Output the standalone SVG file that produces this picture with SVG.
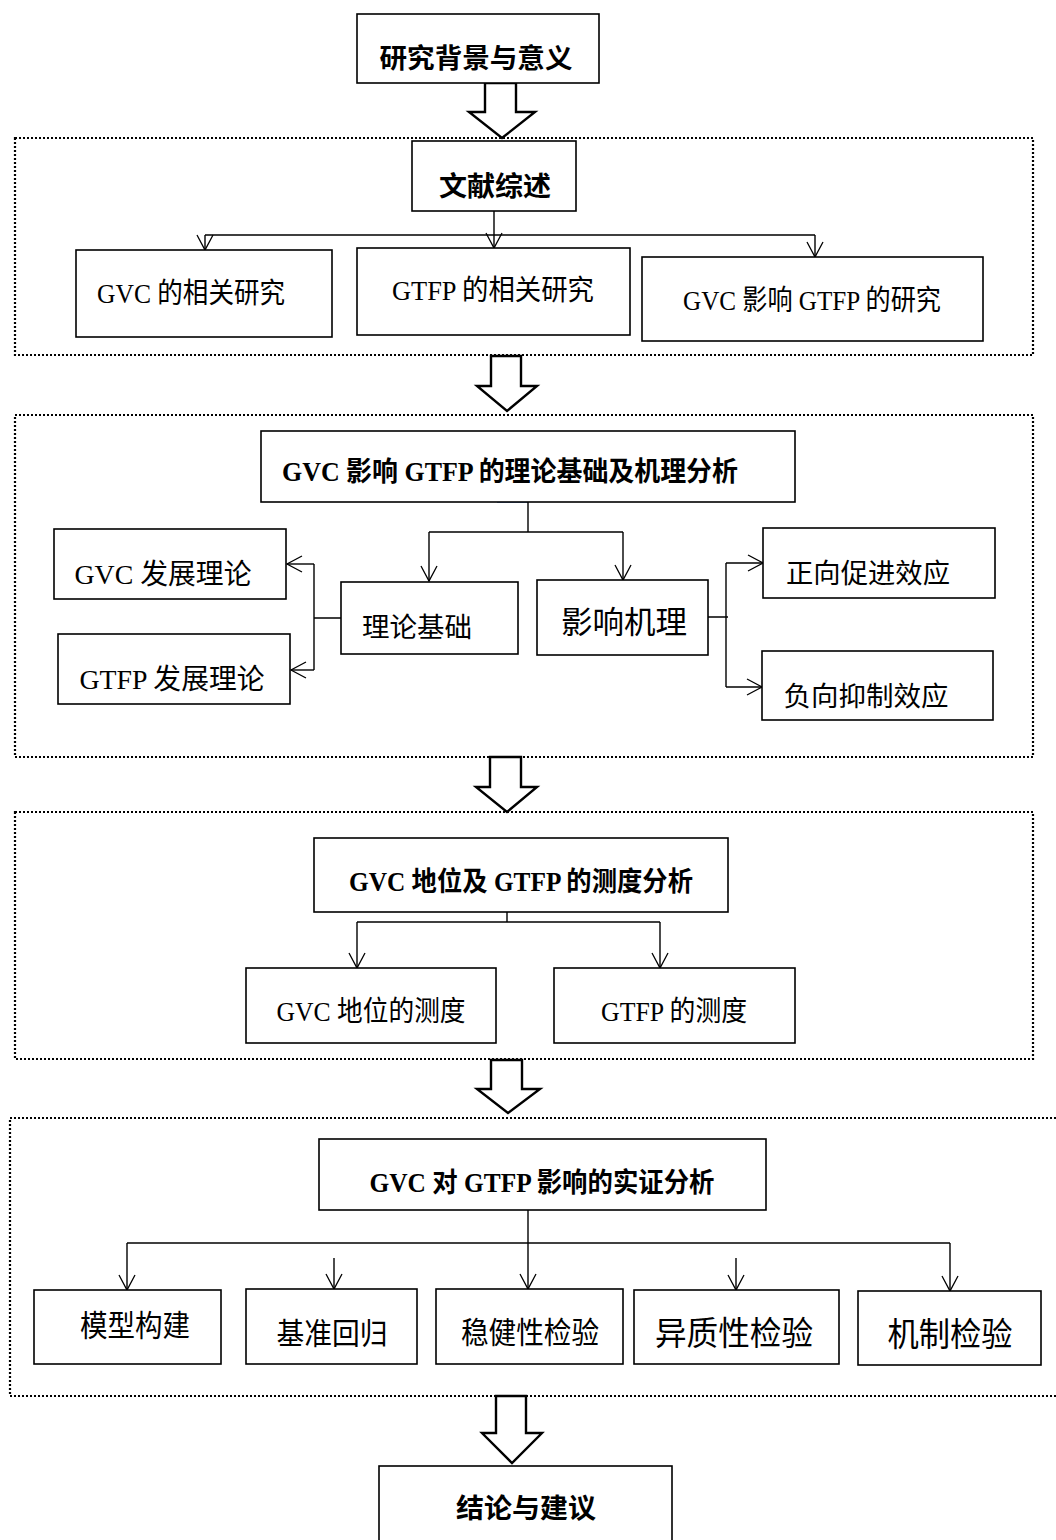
<svg xmlns="http://www.w3.org/2000/svg" width="1056" height="1540" viewBox="0 0 1056 1540">
<defs>
<marker id="v" markerUnits="userSpaceOnUse" markerWidth="18" markerHeight="18" refX="15" refY="8" orient="auto" overflow="visible">
<path d="M0,0 L15,8 L0,16" fill="none" stroke="#000" stroke-width="1.3"/>
</marker>
<style>
.box{fill:#fff;stroke:#000;stroke-width:1.6}
.sec{fill:none;stroke:#000;stroke-width:2.2;stroke-dasharray:2 2}
.blk{fill:#fff;stroke:#000;stroke-width:2.4;stroke-linejoin:miter}
.ln{fill:none;stroke:#000;stroke-width:1.4}
.arr{fill:none;stroke:#000;stroke-width:1.4;marker-end:url(#v)}
.b{font-family:"Liberation Serif","Noto Sans CJK SC",serif;font-weight:bold;fill:#000;text-anchor:middle}
.n{font-family:"Liberation Serif","Noto Sans CJK SC",serif;fill:#000;text-anchor:middle}
</style>
</defs>
<rect width="1056" height="1540" fill="#fff"/>

<g id="sections">
<rect class="sec" x="15" y="138" width="1018" height="217"/>
<rect class="sec" x="15" y="415" width="1018" height="342"/>
<rect class="sec" x="15" y="812" width="1018" height="247"/>
<rect class="sec" x="10" y="1118" width="1060" height="278"/>
</g>

<g id="connectors">
<polygon class="blk" points="485,83 516,83 516,112 535,112 502,138 469,112 485,112"/>
<polygon class="blk" points="491,356 521,356 521,386 537,386 507,411 477,386 491,386"/>
<polygon class="blk" points="490,757 521,757 521,787 537,787 507,812 476,787 490,787"/>
<polygon class="blk" points="491,1060 522,1060 522,1089 540,1089 508,1113 477,1089 491,1089"/>
<polygon class="blk" points="496,1396 526,1396 526,1433 542,1433 512,1463 482,1433 496,1433"/>

<path class="ln" d="M494,211 V235 M205,235 H815"/>
<path class="arr" d="M205,235 V250"/>
<path class="arr" d="M494,235 V248"/>
<path class="arr" d="M815,235 V257"/>

<path d="M497,502 H528" stroke="#4a7fd4" stroke-width="1.5" fill="none"/>
<path class="ln" d="M528,502 V532 M429,532 H623"/>
<path class="arr" d="M429,532 V581"/>
<path class="arr" d="M623,532 V580"/>
<path class="ln" d="M341,618 H314 M314,564 V670"/>
<path class="arr" d="M314,564 H287"/>
<path class="arr" d="M314,670 H291"/>
<path class="ln" d="M708,617 H728 M726,563 V687"/>
<path class="arr" d="M726,563 H763"/>
<path class="arr" d="M726,687 H762"/>

<path class="ln" d="M507,912 V922 M357,922 H660"/>
<path class="arr" d="M357,922 V968"/>
<path class="arr" d="M660,922 V968"/>

<path class="ln" d="M127,1243 H950"/>
<path class="arr" d="M528,1210 V1289"/>
<path class="arr" d="M127,1243 V1290"/>
<path class="arr" d="M334,1258 V1289"/>
<path class="arr" d="M736,1258 V1290"/>
<path class="arr" d="M950,1243 V1291"/>
</g>

<g id="n-bg"><rect class="box" x="357" y="14" width="242" height="69"/><text class="b" x="476" y="68" font-size="27" textLength="193" lengthAdjust="spacingAndGlyphs">研究背景与意义</text></g>
<g id="n-lit"><rect class="box" x="412" y="141" width="164" height="70"/><text class="b" x="495" y="196" font-size="27" textLength="112" lengthAdjust="spacingAndGlyphs">文献综述</text></g>
<g id="n-gvc"><rect class="box" x="76" y="250" width="256" height="87"/><text class="n" x="191" y="303" font-size="28" textLength="188" lengthAdjust="spacingAndGlyphs">GVC 的相关研究</text></g>
<g id="n-gtfp"><rect class="box" x="357" y="248" width="273" height="87"/><text class="n" x="493" y="300" font-size="28" textLength="202" lengthAdjust="spacingAndGlyphs">GTFP 的相关研究</text></g>
<g id="n-gvcgtfp"><rect class="box" x="642" y="257" width="341" height="84"/><text class="n" x="812" y="310" font-size="28" textLength="258" lengthAdjust="spacingAndGlyphs">GVC 影响 GTFP 的研究</text></g>

<g id="n-theory"><rect class="box" x="261" y="431" width="534" height="71"/><text class="b" x="510" y="481" font-size="27" textLength="456" lengthAdjust="spacingAndGlyphs">GVC 影响 GTFP 的理论基础及机理分析</text></g>
<g id="n-base"><rect class="box" x="341" y="582" width="177" height="72"/><text class="n" x="417" y="637" font-size="27" textLength="110" lengthAdjust="spacingAndGlyphs">理论基础</text></g>
<g id="n-mech"><rect class="box" x="537" y="580" width="171" height="75"/><text class="n" x="624" y="633" font-size="31" textLength="126" lengthAdjust="spacingAndGlyphs">影响机理</text></g>
<g id="n-gvcdev"><rect class="box" x="54" y="529" width="232" height="70"/><text class="n" x="163" y="584" font-size="28" textLength="177" lengthAdjust="spacingAndGlyphs">GVC 发展理论</text></g>
<g id="n-gtfpdev"><rect class="box" x="58" y="634" width="232" height="70"/><text class="n" x="172" y="689" font-size="28" textLength="185" lengthAdjust="spacingAndGlyphs">GTFP 发展理论</text></g>
<g id="n-pos"><rect class="box" x="763" y="528" width="232" height="70"/><text class="n" x="868" y="583" font-size="27" textLength="164" lengthAdjust="spacingAndGlyphs">正向促进效应</text></g>
<g id="n-neg"><rect class="box" x="762" y="651" width="231" height="69"/><text class="n" x="866" y="706" font-size="27" textLength="165" lengthAdjust="spacingAndGlyphs">负向抑制效应</text></g>

<g id="n-meas"><rect class="box" x="314" y="838" width="414" height="74"/><text class="b" x="521" y="891" font-size="27" textLength="344" lengthAdjust="spacingAndGlyphs">GVC 地位及 GTFP 的测度分析</text></g>
<g id="n-gvcmeas"><rect class="box" x="246" y="968" width="250" height="75"/><text class="n" x="371" y="1021" font-size="28" textLength="189" lengthAdjust="spacingAndGlyphs">GVC 地位的测度</text></g>
<g id="n-gtfpmeas"><rect class="box" x="554" y="968" width="241" height="75"/><text class="n" x="674" y="1021" font-size="28" textLength="146" lengthAdjust="spacingAndGlyphs">GTFP 的测度</text></g>

<g id="n-emp"><rect class="box" x="319" y="1139" width="447" height="71"/><text class="b" x="542" y="1192" font-size="27" textLength="345" lengthAdjust="spacingAndGlyphs">GVC 对 GTFP 影响的实证分析</text></g>
<g id="n-model"><rect class="box" x="34" y="1290" width="187" height="74"/><text class="n" x="135" y="1336" font-size="30" textLength="110" lengthAdjust="spacingAndGlyphs">模型构建</text></g>
<g id="n-bench"><rect class="box" x="246" y="1289" width="171" height="75"/><text class="n" x="332" y="1344" font-size="30" textLength="111" lengthAdjust="spacingAndGlyphs">基准回归</text></g>
<g id="n-robust"><rect class="box" x="436" y="1289" width="187" height="75"/><text class="n" x="530" y="1343" font-size="30" textLength="138" lengthAdjust="spacingAndGlyphs">稳健性检验</text></g>
<g id="n-het"><rect class="box" x="634" y="1290" width="205" height="74"/><text class="n" x="734" y="1345" font-size="33" textLength="158" lengthAdjust="spacingAndGlyphs">异质性检验</text></g>
<g id="n-mechtest"><rect class="box" x="858" y="1291" width="183" height="74"/><text class="n" x="950" y="1346" font-size="33" textLength="125" lengthAdjust="spacingAndGlyphs">机制检验</text></g>

<g id="n-concl"><rect class="box" x="379" y="1466" width="293" height="80"/><text class="b" x="526" y="1518" font-size="27" textLength="140" lengthAdjust="spacingAndGlyphs">结论与建议</text></g>
</svg>
